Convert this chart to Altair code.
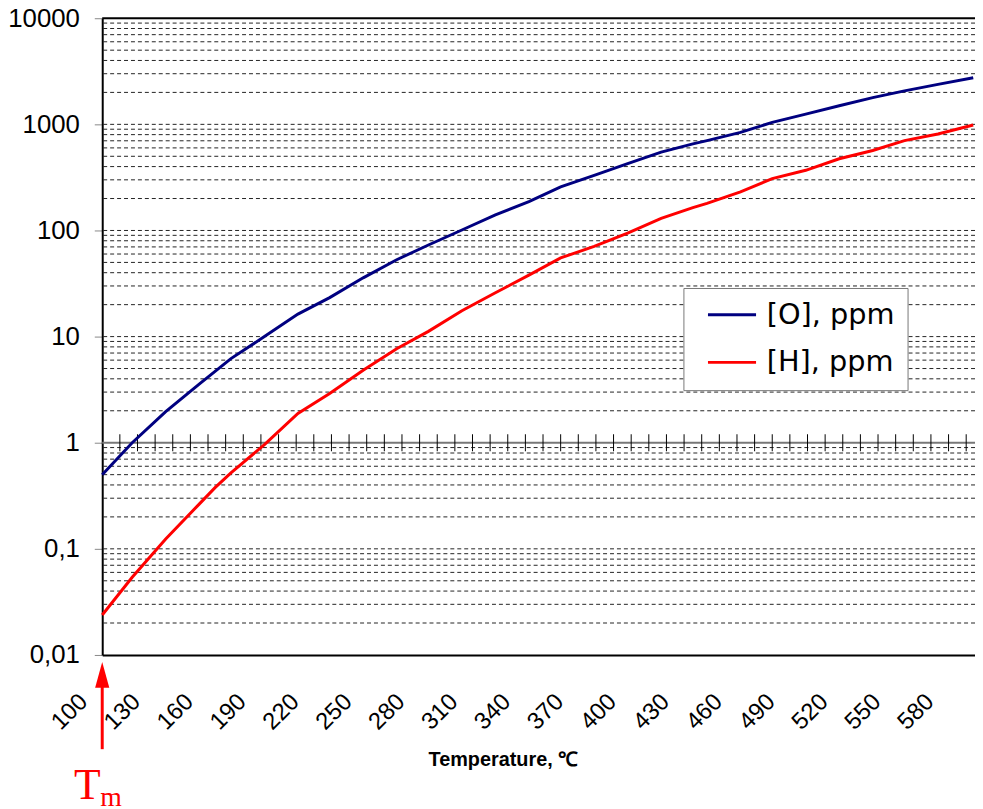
import altair as alt
import pandas as pd

# ---- data ----
T_O = [100, 117, 136, 155, 173, 192, 211, 229, 248, 267, 285, 304, 323, 342, 360,
       379, 398, 417, 435, 443, 462, 480, 499, 518, 537, 555, 574, 594]
O_ppm = [0.50, 1.0, 1.96, 3.56, 6.2, 10.0, 16.3, 23.3, 35.8, 53, 73, 101, 140, 187, 258,
         331, 426, 547, 655, 703, 841, 1044, 1248, 1496, 1787, 2066, 2382, 2747]
T_H = [100, 117, 136, 155, 164, 173, 192, 211, 229, 248, 267, 285, 304, 323, 342, 360,
       379, 398, 417, 435, 443, 462, 480, 499, 518, 537, 555, 574, 594]
H_ppm = [0.0238, 0.054, 0.124, 0.264, 0.377, 0.52, 0.96, 1.89, 2.91, 4.81, 7.67, 11.2, 17.5,
         25.9, 37.9, 55.1, 70.8, 94.4, 130, 164, 180, 231, 308, 369, 474, 567, 703, 811, 987]
series_names = ["[O], ppm", "[H], ppm"]
series_colors = ["#000080", "#ff0000"]

x_labels = list(range(100, 581, 30))
decades = [0.01, 0.1, 1, 10, 100, 1000, 10000]
minor_grid = [m * d for d in [0.01, 0.1, 1, 10, 100, 1000] for m in range(2, 10)]
grid_values = minor_grid + [0.1, 10, 100, 1000]
cross_ticks = list(range(110, 591, 10))
Tm_value = [100]

df = pd.concat([
    pd.DataFrame({"T": T_O, "ppm": O_ppm, "s": series_names[0]}),
    pd.DataFrame({"T": T_H, "ppm": H_ppm, "s": series_names[1]}),
])
grid_df = pd.DataFrame({"v": grid_values})
tick_df = pd.DataFrame({"T": cross_ticks})
tm_df = pd.DataFrame({"T": Tm_value})

xscale = alt.Scale(domain=[100, 595], nice=False, zero=False)
yscale = alt.Scale(type="log", domain=[0.01, 10000], nice=False)

xaxis = alt.Axis(values=x_labels, labelAngle=-45, labelAlign="right", labelBaseline="middle",
                 labelPadding=43, labelOffset=-19, ticks=False, grid=False,
                 domainColor="black", domainWidth=2, labelFont="Liberation Sans",
                 labelFontSize=24, labelColor="black", labelFlush=False, labelOverlap=False,
                 title="Temperature, ℃", titleFont="Liberation Sans", titleFontSize=20,
                 titleFontWeight="bold", titleColor="black", titleX=404, titleY=105,
                 titleAlign="center", titleBaseline="middle")
yaxis = alt.Axis(values=decades, labelExpr="replace(toString(datum.value), '.', ',')",
                 grid=False, ticks=True, tickSize=8, tickColor="#888", tickWidth=1,
                 domainColor="black", domainWidth=2, labelPadding=15,
                 labelFont="Liberation Sans", labelFontSize=26, labelColor="black",
                 labelFlush=False, labelOverlap=False, title=None)


def X(field, **kw):
    return alt.X(field, scale=xscale, axis=xaxis, **kw)


def Y(field, **kw):
    return alt.Y(field, scale=yscale, axis=yaxis, **kw)


grid = alt.Chart(grid_df).mark_rule(color="#222", strokeWidth=1, strokeDash=[4, 3]).encode(
    y=Y("v:Q"))

top_border = alt.Chart(tm_df).mark_rule(color="black", strokeWidth=2).encode(
    y=alt.YDatum(10000, scale=yscale, axis=yaxis))

one_line = alt.Chart(tm_df).mark_rule(color="#777", strokeWidth=2).encode(
    y=alt.YDatum(1, scale=yscale, axis=yaxis))

one_ticks = alt.Chart(tick_df).mark_tick(orient="vertical", size=17, thickness=1,
                                          color="black", opacity=1).encode(
    x=X("T:Q"), y=alt.YDatum(1, scale=yscale, axis=yaxis))

lines = alt.Chart(df).mark_line(strokeWidth=3).encode(
    x=X("T:Q"), y=Y("ppm:Q"),
    color=alt.Color("s:N", scale=alt.Scale(domain=series_names, range=series_colors),
                    legend=alt.Legend(title=None, orient="none", legendX=586, legendY=272,
                                      fillColor="white", strokeColor="#777", padding=13,
                                      symbolType="stroke", symbolSize=2350,
                                      symbolOffset=10, clipHeight=28,
                                      symbolStrokeWidth=3, labelFont="DejaVu Sans",
                                      labelFontSize=29, labelColor="black", labelOffset=9,
                                      rowPadding=19, labelLimit=400)),
    order=alt.Order("T:Q"))

arrow_shaft = alt.Chart(tm_df).mark_rule(color="#ff0000", strokeWidth=3).encode(
    x=X("T:Q"), y=alt.value(668), y2=alt.value(737))

arrow_head = alt.Chart(tm_df).mark_point(shape="M -0.55 1 L 0 -1 L 0.55 1 Z", size=676,
                                         filled=True, color="#ff0000", opacity=1).encode(
    x=X("T:Q"), y=alt.value(662))

tm_T = alt.Chart(tm_df).mark_text(text="T", font="Liberation Serif", fontSize=44,
                                  color="#ff0000", align="center", baseline="alphabetic",
                                  dx=-15).encode(x=X("T:Q"), y=alt.value(787))
tm_m = alt.Chart(tm_df).mark_text(text="m", font="Liberation Serif", fontSize=28,
                                  color="#ff0000", align="center", baseline="alphabetic",
                                  dx=9).encode(x=X("T:Q"), y=alt.value(794))

chart = alt.layer(grid, top_border, one_line, one_ticks, lines, arrow_shaft, arrow_head,
                  tm_T, tm_m).properties(
    width=880, height=642,
    autosize=alt.AutoSizeParams(type="none"),
    padding={"left": 95, "top": 7, "right": 0, "bottom": 152},
).configure_view(stroke=None).configure(background="white")

chart.save("out.html", embed_options={"renderer": "svg", "actions": False})
